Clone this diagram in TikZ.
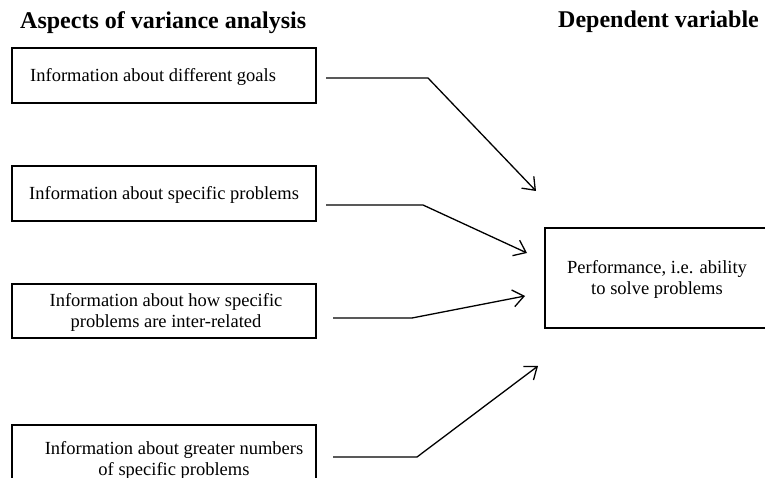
\documentclass[tikz,border=0pt]{standalone}
\usepackage{fontspec}
\setmainfont{Liberation Serif}
\usetikzlibrary{arrows.meta}
\begin{document}
\begin{tikzpicture}[x=1pt,y=-1pt,
  boxshape/.style={draw, line width=1.1pt, inner sep=0pt},
  boxtext/.style={inner sep=0pt, font=\fontsize{18.5}{21}\selectfont, align=center},
  headtext/.style={inner sep=0pt, font=\fontsize{24}{28}\selectfont\bfseries},
  conn/.style={line width=1.3pt, line join=miter, -{Straight Barb[length=11pt,width=17pt,line width=1.3pt]}}]
\useasboundingbox (0,0) rectangle (765,478);
% headings
\node[headtext, anchor=base west] (h1) at (20,29) {Aspects of variance analysis};
\node[headtext, anchor=base west] (h2) at (558,28) {Dependent variable};
% boxes
\node[boxshape, minimum width=304pt, minimum height=55pt] (b1) at (164,75.5) {};
\node[boxshape, minimum width=304pt, minimum height=55pt] (b2) at (164,193.5) {};
\node[boxshape, minimum width=304pt, minimum height=54pt] (b3) at (164,311) {};
\node[boxshape, minimum width=304pt, minimum height=80pt] (b4) at (164,465) {};
\node[boxshape, minimum width=240pt, minimum height=100pt] (r) at (665,278) {};
% texts
\node[boxtext, anchor=base west] (t1) at (30,82) {Information about different goals};
\node[boxtext, anchor=base west] (t2) at (29,200) {Information about specific problems};
\node[boxtext] (t3) at (166,312) {Information about how specific\\problems are inter-related};
\node[boxtext] (t4) at (174,460) {Information about greater numbers\\of specific problems};
\node[boxtext] (tr) at (657,279.5) {Performance, i.e. ability\\to solve problems};
% connector points
\coordinate (s1) at (326,78);  \coordinate (k1) at (428,78);  \coordinate (e1) at (536,191);
\coordinate (s2) at (326,205); \coordinate (k2) at (423,205); \coordinate (e2) at (527,253);
\coordinate (s3) at (333,318); \coordinate (k3) at (412,318); \coordinate (e3) at (525,296);
\coordinate (s4) at (333,457); \coordinate (k4) at (417,457); \coordinate (e4) at (538,366);
\draw[conn] (s1) -- (k1) -- (e1);
\draw[conn] (s2) -- (k2) -- (e2);
\draw[conn] (s3) -- (k3) -- (e3);
\draw[conn] (s4) -- (k4) -- (e4);
\end{tikzpicture}
\end{document}
